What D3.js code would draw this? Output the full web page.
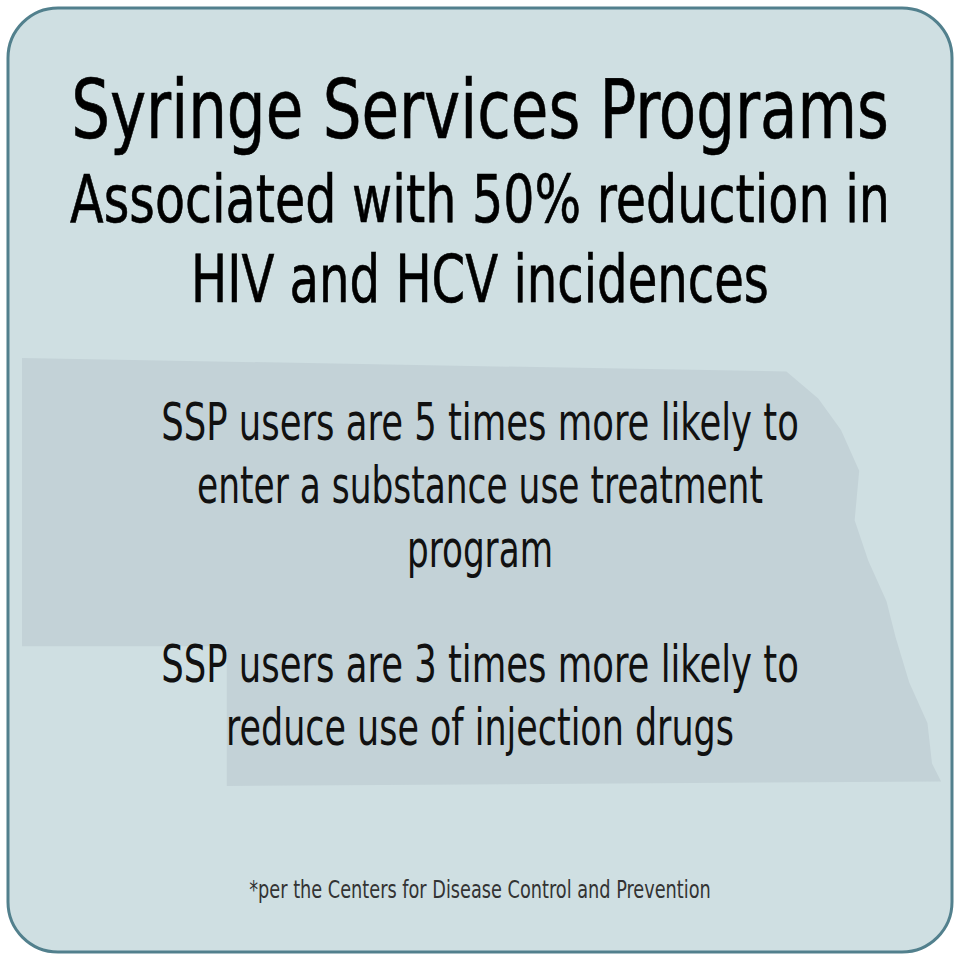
<!DOCTYPE html>
<html><head><meta charset="utf-8">
<script src="https://cdn.jsdelivr.net/npm/d3@7"></script>
<style>body{margin:0;background:#fff}</style></head>
<body><svg></svg>
<script>
const titleLines = ["Syringe Services Programs", "Associated with 50% reduction in", "HIV and HCV incidences"];
const bodyLines = ["SSP users are 5 times more likely to", "enter a substance use treatment", "program", "", "SSP users are 3 times more likely to", "reduce use of injection drugs"];
const footnote = "*per the Centers for Disease Control and Prevention";
// rough Nebraska outline, in 0..100 units
const stateOutline = [[0,0],[84,1.5],[87.5,4.5],[90,8],[92,12.5],[91.5,18],[93,22.5],[95,27],[96,31],[97.5,36],[99.5,40.5],[100,45],[101,47],[22.5,47.5],[22.5,32],[0,32]];

const width = 960, height = 960;
const svg = d3.select("svg").attr("width", width).attr("height", height);

svg.append("rect").attr("x", 8).attr("y", 8).attr("width", 944).attr("height", 944)
    .attr("rx", 50).attr("fill", "#cfdfe2").attr("stroke", "#52808d").attr("stroke-width", 3);

const sx = d3.scaleLinear().domain([0, 100]).range([22, 932]);
const sy = d3.scaleLinear().domain([0, 47.5]).range([358, 786]);
svg.append("path")
    .attr("d", d3.line().x(d => sx(d[0])).y(d => sy(d[1]))(stateOutline) + "Z")
    .attr("fill", "#c3d2d7");

const font = "'Liberation Sans Narrow', 'DejaVu Sans Condensed', sans-serif";
function fitText(sel, w) {
    sel.each(function () {
        const bb = this.getBBox();
        const t = d3.select(this);
        const k = w / bb.width;
        t.attr("transform", `translate(480,${t.attr("y")}) scale(${k},1) translate(-480,${-t.attr("y")})`);
    });
}

const titleSizes = [82, 66, 66], titleY = [138, 222, 302], titleW = [818, 820, 578];
svg.append("g").selectAll("text").data(titleLines).enter().append("text")
    .attr("x", 480).attr("y", (d, i) => titleY[i])
    .attr("text-anchor", "middle").attr("font-family", font)
    .attr("font-size", (d, i) => titleSizes[i]).attr("fill", "#000")
    .attr("stroke", "#000").attr("stroke-width", 0.6)
    .text(d => d)
    .each(function (d, i) { fitText(d3.select(this), titleW[i]); });

const bodyY = [440, 503, 567, 0, 682, 745], bodyW = [638, 566, 146, 0, 638, 508];
svg.append("g").selectAll("text").data(bodyLines).enter().filter(d => d !== "").append("text")
    .attr("x", 480).attr("y", d => bodyY[bodyLines.indexOf(d)])
    .attr("text-anchor", "middle").attr("font-family", font)
    .attr("font-size", 51).attr("fill", "#111")
    .text(d => d)
    .each(function (d) { fitText(d3.select(this), bodyW[bodyLines.indexOf(d)]); });

svg.append("text").attr("x", 480).attr("y", 898).attr("text-anchor", "middle")
    .attr("font-family", font).attr("font-size", 24).attr("fill", "#333")
    .text(footnote)
    .call(fitText, 462);
</script></body></html>
